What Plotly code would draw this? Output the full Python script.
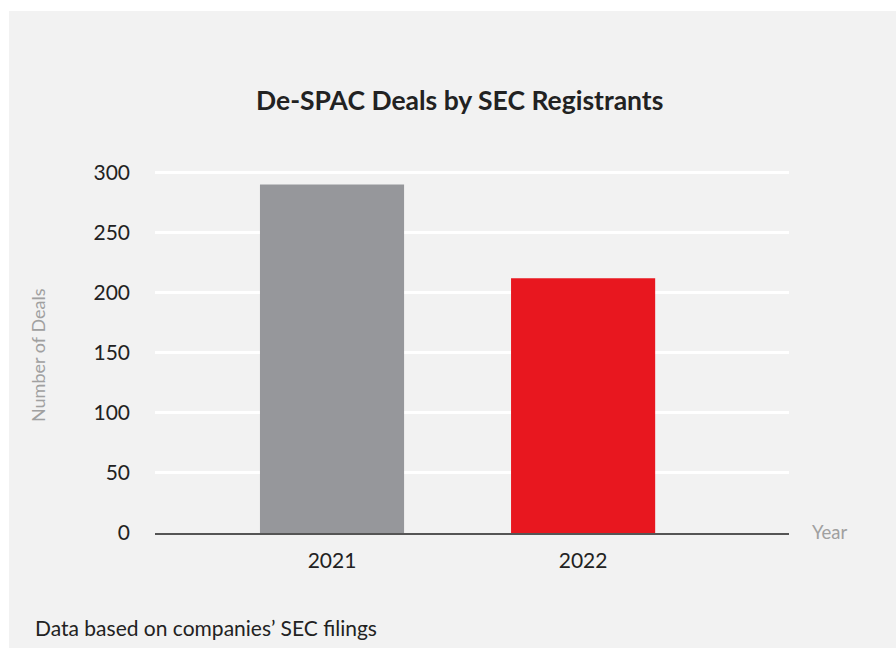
import plotly.graph_objects as go

# Deal counts per year
years = ["2021", "2022"]
deals = [290, 212]
bar_colors = ["#96979b", "#e8171f"]
y_ticks = [0, 50, 100, 150, 200, 250, 300]

W, H = 896, 648
L, R, T, B = 155, 107, 170, 115
PW, PH = W - L - R, H - T - B
FONT = "Lato"


def px_x(x):
    """pixel column -> paper x"""
    return (x - L) / PW


def px_y(y):
    """pixel row (from top) -> paper y"""
    return (H - y - B) / PH


fig = go.Figure()
fig.add_trace(go.Bar(
    x=years,
    y=deals,
    marker=dict(color=bar_colors, line=dict(width=0)),
    width=0.574,
    hoverinfo="x+y",
))

fig.update_layout(
    width=W, height=H,
    margin=dict(l=L, r=R, t=T, b=B),
    paper_bgcolor="#f2f2f2",
    plot_bgcolor="#f2f2f2",
    showlegend=False,
    font=dict(family=FONT, color="#222222"),
    # thin white border strips along the top and left edges
    shapes=[
        dict(type="rect", xref="paper", yref="paper",
             x0=px_x(0), x1=px_x(W), y0=px_y(11), y1=px_y(0),
             layer="above", line=dict(width=0), fillcolor="#ffffff"),
        dict(type="rect", xref="paper", yref="paper",
             x0=px_x(0), x1=px_x(9), y0=px_y(H), y1=px_y(0),
             layer="above", line=dict(width=0), fillcolor="#ffffff"),
    ],
    xaxis=dict(
        type="category",
        range=[-0.705, 1.82],
        showgrid=False,
        showline=True, linecolor="#555555", linewidth=2,
        ticks="", tickfont=dict(size=21, color="#222222"),
        ticklabelstandoff=8,
        fixedrange=True,
    ),
    yaxis=dict(
        range=[0, 302],
        tickvals=y_ticks,
        showgrid=True, gridcolor="#ffffff", gridwidth=2.5,
        zeroline=False, showline=False,
        ticks="", tickfont=dict(size=21, color="#222222"),
        ticklabelstandoff=24,
        fixedrange=True,
    ),
    annotations=[
        dict(text="<b>De-SPAC Deals by SEC Registrants</b>", xref="paper", yref="paper",
             x=px_x(459), y=px_y(100),
             xanchor="center", yanchor="middle", showarrow=False,
             font=dict(size=26.5, color="#222222", family=FONT)),
        dict(text="Number of Deals", xref="paper", yref="paper",
             x=px_x(38), y=px_y(355),
             xanchor="center", yanchor="middle", textangle=-90, showarrow=False,
             font=dict(size=18, color="#a0a0a0", family=FONT)),
        dict(text="Year", xref="paper", yref="paper",
             x=px_x(810), y=px_y(532),
             xanchor="left", yanchor="middle", showarrow=False,
             font=dict(size=18.5, color="#a0a0a0", family=FONT)),
        dict(text="Data based on companies\u2019 SEC filings", xref="paper", yref="paper",
             x=px_x(33), y=px_y(627),
             xanchor="left", yanchor="middle", showarrow=False,
             font=dict(size=21, color="#222222", family=FONT)),
    ],
)

fig.write_html("out.html")
